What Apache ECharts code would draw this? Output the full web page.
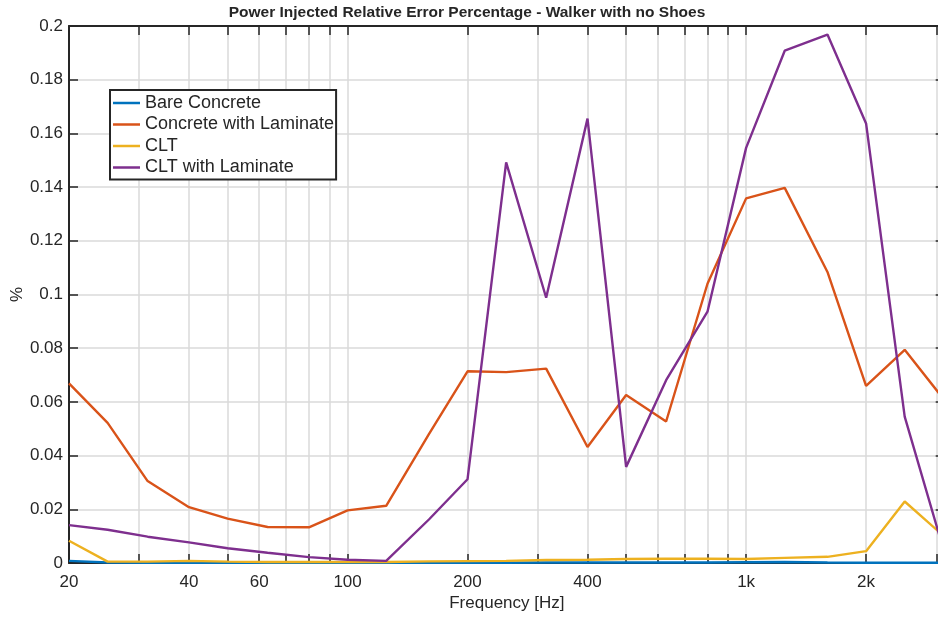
<!DOCTYPE html>
<html>
<head>
<meta charset="utf-8">
<script src="https://cdn.jsdelivr.net/npm/echarts@6/dist/echarts.min.js"></script>
<style>
  html, body { margin: 0; padding: 0; background: #fff; }
  #chart { width: 938px; height: 617px; }
</style>
</head>
<body>
<div id="chart"></div>
<script>
// One-third-octave band centre frequencies (Hz)
const frequencies = [20, 25, 31.5, 40, 50, 63, 80, 100, 125, 160, 200, 250, 315, 400, 500, 630, 800, 1000, 1250, 1600, 2000, 2500, 3150];

// Relative error of injected power (%) per floor build-up
const bareConcrete = [0.0008, 0.0002, 0.0001, 0.0002, 0.0001, 0.0001, 0.0001, 0.0001, 0.0001, 0.0001, 0.0001, 0.0001, 0.0002, 0.0002, 0.0002, 0.0002, 0.0002, 0.0003, 0.0004, 0.0002, 0.0001, 0.0001, 0.0001];
const concreteWithLaminate = [0.0669, 0.0522, 0.0305, 0.0208, 0.0165, 0.0134, 0.0133, 0.0196, 0.0213, 0.0480, 0.0714, 0.0711, 0.0724, 0.0432, 0.0626, 0.0527, 0.1040, 0.1358, 0.1397, 0.1084, 0.0660, 0.0794, 0.0605];
const clt = [0.0083, 0.0005, 0.0005, 0.0008, 0.0005, 0.0004, 0.0004, 0.0004, 0.0004, 0.0006, 0.0007, 0.0008, 0.0011, 0.0012, 0.0015, 0.0016, 0.0016, 0.0015, 0.0019, 0.0023, 0.0044, 0.0229, 0.0097];
const cltWithLaminate = [0.0141, 0.0124, 0.0098, 0.0077, 0.0055, 0.0038, 0.0022, 0.0012, 0.0008, 0.0162, 0.0312, 0.1492, 0.0988, 0.1655, 0.0358, 0.0681, 0.0936, 0.1546, 0.1908, 0.1968, 0.1637, 0.0545, 0.0035];

const seriesNames = ['Bare Concrete', 'Concrete with Laminate', 'CLT', 'CLT with Laminate'];
const seriesColors = ['#0072BD', '#D95319', '#EDB120', '#7E2F8E'];

// Log-axis tick marks / grid lines and the subset that carries labels
const xTickValues = [20, 30, 40, 50, 60, 70, 80, 90, 100, 200, 300, 400, 500, 600, 700, 800, 900, 1000, 2000, 3000];
const xLabelValues = [20, 40, 60, 100, 200, 400, 1000, 2000];

const FONT = "'Liberation Sans', Arial, Helvetica, sans-serif";
const INK = '#262626';
const GRID = '#dadada';

const chart = echarts.init(document.getElementById('chart'), null, { renderer: 'canvas' });

const valueSets = [bareConcrete, concreteWithLaminate, clt, cltWithLaminate];

const xAxisBase = {
  type: 'log',
  logBase: 10,
  min: 20,
  max: 3150,
  axisLine: { show: true, onZero: false, lineStyle: { color: INK, width: 2 } },
  axisTick: { show: true, inside: true, length: 9, customValues: xTickValues, lineStyle: { color: INK, width: 1.5 } },
  minorTick: { show: false },
  minorSplitLine: { show: false }
};

const yAxisBase = {
  type: 'value',
  min: 0,
  max: 0.2,
  interval: 0.02,
  axisLine: { show: true, lineStyle: { color: INK, width: 2 } },
  axisTick: { show: true, inside: true, length: 9, lineStyle: { color: INK, width: 1.5 } }
};

chart.setOption({
  animation: false,
  backgroundColor: '#fff',
  // The plot box runs a few pixels past the right edge of the canvas
  grid: { left: 69, top: 26, right: -6.7, bottom: 54, containLabel: false, outerBoundsMode: 'none' },
  graphic: [{
    type: 'text',
    x: 467,
    y: 13,
    style: {
      text: 'Power Injected Relative Error Percentage - Walker with no Shoes',
      font: 'bold 15.5px ' + FONT,
      fill: INK,
      textAlign: 'center',
      textVerticalAlign: 'middle'
    }
  }],
  legend: {
    orient: 'vertical',
    left: 110,
    top: 90,
    padding: [4, 2, 3, 3],
    itemGap: 3.5,
    itemWidth: 27,
    itemHeight: 2.5,
    icon: 'rect',
    borderColor: INK,
    borderWidth: 2,
    borderRadius: 0,
    backgroundColor: '#fff',
    textStyle: { fontSize: 18, color: INK, fontFamily: FONT, lineHeight: 18 },
    data: seriesNames
  },
  xAxis: [
    Object.assign({}, xAxisBase, {
      position: 'bottom',
      name: 'Frequency [Hz]',
      nameLocation: 'middle',
      nameGap: 32,
      nameMoveOverlap: false,
      nameTextStyle: { fontSize: 17, color: INK, fontFamily: FONT },
      axisLabel: {
        show: true,
        margin: 11,
        customValues: xLabelValues,
        fontSize: 17,
        color: INK,
        fontFamily: FONT,
        formatter: v => (v >= 1000 ? (v / 1000) + 'k' : String(v))
      },
      splitLine: { show: true, lineStyle: { color: GRID, width: 1.5 } }
    }),
    Object.assign({}, xAxisBase, {
      position: 'top',
      axisLabel: { show: false },
      splitLine: { show: false }
    })
  ],
  yAxis: [
    Object.assign({}, yAxisBase, {
      position: 'left',
      name: '%',
      nameLocation: 'middle',
      nameGap: 43,
      nameRotate: 90,
      nameMoveOverlap: false,
      nameTextStyle: { fontSize: 17, color: INK, fontFamily: FONT },
      axisLabel: {
        show: true,
        margin: 6,
        fontSize: 17,
        color: INK,
        fontFamily: FONT,
        formatter: v => String(+v.toFixed(2))
      },
      splitLine: { show: true, lineStyle: { color: GRID, width: 1.5 } }
    }),
    Object.assign({}, yAxisBase, {
      position: 'right',
      axisLabel: { show: false },
      splitLine: { show: false }
    })
  ],
  series: seriesNames.map((name, i) => ({
    name: name,
    type: 'line',
    xAxisIndex: 0,
    yAxisIndex: 0,
    symbol: 'none',
    showSymbol: false,
    clip: true,
    color: seriesColors[i],
    lineStyle: { color: seriesColors[i], width: 2.4 },
    data: frequencies.map((f, k) => [f, valueSets[i][k]])
  }))
});
</script>
</body>
</html>
